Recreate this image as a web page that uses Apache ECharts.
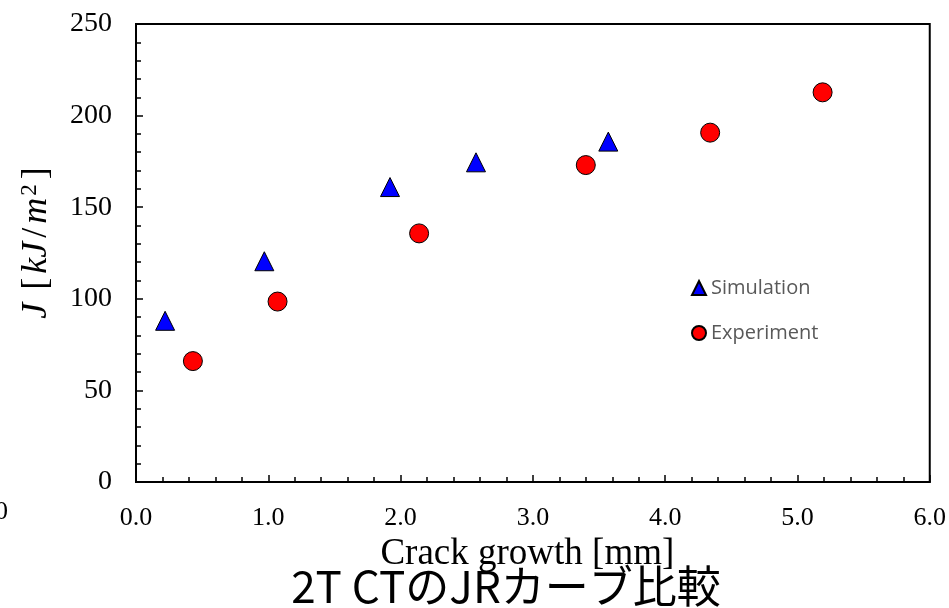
<!DOCTYPE html>
<html>
<head>
<meta charset="utf-8">
<script src="https://cdn.jsdelivr.net/npm/echarts@6/dist/echarts.min.js"></script>
<style>
html,body{margin:0;padding:0;background:#fff;}
#c{width:949px;height:608px;}
</style>
</head>
<body>
<div id="c"></div>
<script>
// Data
var simX = [0.22, 0.97, 1.92, 2.57, 3.57];
var simY = [88, 120.5, 161, 174.5, 185.8];
var expX = [0.43, 1.07, 2.14, 3.40, 4.34, 5.19];
var expY = [66, 98.5, 135.7, 173, 190.7, 212.7];
var seriesNames = ['Simulation', 'Experiment'];
var xTitle = 'Crack growth [mm]';
var chartTitle = '2T CTのJRカーブ比較';

function pairs(xs, ys) { return xs.map(function (x, i) { return [x, ys[i]]; }); }

var chart = echarts.init(document.getElementById('c'), null, {renderer: 'canvas'});
var serif = 'Liberation Serif, Times New Roman, serif';
chart.setOption({
  animation: false,
  backgroundColor: '#fff',
  grid: {left: 136, right: 18, top: 24, bottom: 126, show: true, borderColor: '#000', borderWidth: 2, containLabel: false},
  xAxis: {
    type: 'value', min: 0, max: 6, interval: 1,
    name: xTitle, nameLocation: 'middle', nameGap: 37,
    nameTextStyle: {fontFamily: serif, fontSize: 37, color: '#000', padding: [0, 11, 0, 0]},
    axisLine: {show: true, lineStyle: {color: '#000', width: 2}},
    axisTick: {show: true, inside: true, length: 7, lineStyle: {color: '#000', width: 1.5}},
    minorTick: {show: true, splitNumber: 5, length: 5, lineStyle: {color: '#000', width: 1.5}},
    splitLine: {show: false},
    axisLabel: {fontFamily: serif, fontSize: 26, color: '#000', margin: 23, formatter: function (v) { return v.toFixed(1); }}
  },
  yAxis: {
    type: 'value', min: 0, max: 250, interval: 50,
    axisLine: {show: true, lineStyle: {color: '#000', width: 2}},
    axisTick: {show: true, inside: true, length: 7, lineStyle: {color: '#000', width: 1.5}},
    minorTick: {show: true, splitNumber: 5, length: 5, lineStyle: {color: '#000', width: 1.5}},
    splitLine: {show: false},
    axisLabel: {fontFamily: serif, fontSize: 28, color: '#000', margin: 24}
  },
  legend: {
    orient: 'vertical', left: 691, top: 278, padding: 0, itemWidth: 14, itemHeight: 14, itemGap: 25,
    textStyle: {fontFamily: 'Open Sans, sans-serif', fontSize: 20, color: '#595959'},
    data: seriesNames
  },
  series: [
    {name: seriesNames[0], type: 'scatter', symbol: 'triangle', symbolSize: 19,
     itemStyle: {color: '#0000ff', borderColor: '#000', borderWidth: 1, opacity: 1},
     data: pairs(simX, simY)},
    {name: seriesNames[1], type: 'scatter', symbol: 'circle', symbolSize: 19,
     itemStyle: {color: '#ff0000', borderColor: '#000', borderWidth: 1, opacity: 1},
     data: pairs(expX, expY)}
  ],
  graphic: [
    {type: 'text', x: 37, y: 243, rotation: Math.PI / 2,
     style: {
       text: '{i|J}{n| [}{i|kJ}{n|/}{i|m}{s|2}{n|]}',
       align: 'center', verticalAlign: 'middle',
       rich: {
         i: {fontFamily: serif, fontStyle: 'italic', fontSize: 36, fill: '#000', padding: [0, 2, 0, 2]},
         n: {fontFamily: serif, fontSize: 36, fill: '#000', padding: [0, 2, 0, 2]},
         s: {fontFamily: serif, fontSize: 23, fill: '#000', verticalAlign: 'top', padding: [0, 3, 14, 0]}
       }
     }},
    {type: 'text', x: 506, y: 586,
     style: {text: chartTitle, fontFamily: 'Noto Sans CJK JP, sans-serif', fontSize: 44, fill: '#000', align: 'center', verticalAlign: 'middle'}},
    {type: 'text', x: 8, y: 512,
     style: {text: '0', fontFamily: serif, fontSize: 26, fill: '#000', align: 'right', verticalAlign: 'middle'}}
  ]
});
</script>
</body>
</html>
